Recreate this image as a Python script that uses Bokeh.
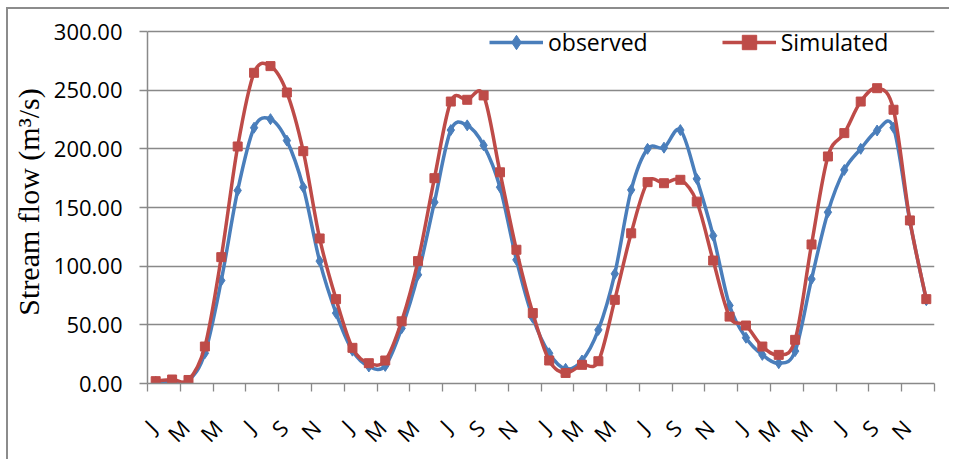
import math
from bokeh.plotting import figure
from bokeh.models import (FixedTicker, PrintfTickFormatter, Range1d, Legend,
                          LegendItem, ColumnDataSource)
from bokeh.embed import file_html
from bokeh.resources import INLINE

# ---- data ----
month_index = list(range(48))
tick_labels = ["J", "M", "M", "J", "S", "N"] * 4
observed = [1.5, 1.5, 2.5, 25.8, 87.8, 164.5, 218, 225.3, 207, 167.3, 104.3, 60,
            28, 14.5, 15, 47, 92.6, 154.5, 216, 220, 203, 167.3, 105.4, 56,
            25.8, 12.5, 19.6, 45.7, 93.5, 165, 200, 201, 216, 174.4, 126, 66.5,
            39, 24.4, 17.3, 27.6, 89, 146, 182, 200, 215.6, 218, 138, 71]
simulated = [2.0, 3.4, 3.0, 31.5, 107.7, 202, 264.8, 270.5, 248, 198, 123.6, 71.9,
             30.4, 17.3, 19.6, 53, 104.3, 175, 240.3, 241.8, 245.5, 180, 114, 60,
             19.6, 9, 15.9, 19, 71.3, 128, 171.6, 170.7, 173.6, 155, 104.8, 57,
             49.4, 31.5, 24.4, 37.2, 118.5, 193.5, 213.4, 240.3, 251.7, 233.3, 139, 71.9]
y_ticks = [0, 50, 100, 150, 200, 250, 300]

BLUE = "#4A7EBB"
RED = "#BE4B48"
GRAY = "#898989"
FONT = "Open Sans"

PLOT_H = 352      # pixels between 0 and 300
EXTRA_TOP = 11    # headroom above the 300 line (room for the legend)
Y_MAX = 300 * (PLOT_H + EXTRA_TOP) / PLOT_H


def bezier_source(xs, ys):
    """Cubic Bezier control points (Catmull-Rom style smoothing, like Excel)."""
    n = len(xs)
    d = dict(x0=[], y0=[], x1=[], y1=[], cx0=[], cy0=[], cx1=[], cy1=[])
    for i in range(n - 1):
        a = max(i - 1, 0)
        b = min(i + 2, n - 1)
        d["x0"].append(xs[i]); d["y0"].append(ys[i])
        d["x1"].append(xs[i + 1]); d["y1"].append(ys[i + 1])
        d["cx0"].append(xs[i] + (xs[i + 1] - xs[a]) / 6.0)
        d["cy0"].append(ys[i] + (ys[i + 1] - ys[a]) / 6.0)
        d["cx1"].append(xs[i + 1] - (xs[b] - xs[i]) / 6.0)
        d["cy1"].append(ys[i + 1] - (ys[b] - ys[i]) / 6.0)
    return ColumnDataSource(d)


p = figure(frame_width=787, frame_height=PLOT_H + EXTRA_TOP,
           x_range=Range1d(-0.5, 47.5), y_range=Range1d(0, Y_MAX),
           output_backend="svg", toolbar_location=None,
           min_border_left=138, min_border_top=22 - EXTRA_TOP,
           min_border_right=15, min_border_bottom=68)
p.styles = {"margin-left": "6px", "margin-top": "7px",
            "border-top": "2px solid #8c8c8c", "border-left": "2px solid #8c8c8c"}
p.outline_line_color = None
p.background_fill_color = "white"
p.border_fill_color = "white"

p.xgrid.visible = False
p.ygrid.grid_line_color = GRAY
p.ygrid.grid_line_width = 1.3
p.ygrid.ticker = FixedTicker(ticks=y_ticks)

# y axis
p.yaxis.ticker = FixedTicker(ticks=y_ticks)
p.yaxis.bounds = (0, 300)
p.yaxis.formatter = PrintfTickFormatter(format="%.2f")
p.yaxis.axis_line_color = GRAY
p.yaxis.axis_line_width = 1.5
p.yaxis.major_tick_line_color = GRAY
p.yaxis.major_tick_line_width = 1.3
p.yaxis.major_tick_out = 8
p.yaxis.major_tick_in = 0
p.yaxis.minor_tick_out = 0
p.yaxis.minor_tick_in = 0
p.yaxis.major_label_standoff = 17
p.yaxis.major_label_text_font = FONT
p.yaxis.major_label_text_font_size = "22px"
p.yaxis.major_label_text_color = "black"
p.yaxis.axis_label = "Stream flow (m³/s)"
p.yaxis.axis_label_text_font = "Liberation Serif"
p.yaxis.axis_label_text_font_size = "30px"
p.yaxis.axis_label_text_font_style = "normal"
p.yaxis.axis_label_text_color = "black"
p.yaxis.axis_label_standoff = 6

# x axis
major = [t - 0.2 for t in range(0, 48, 2)]
p.xaxis.ticker = FixedTicker(ticks=major, minor_ticks=[t - 0.5 for t in range(0, 50, 2)])
p.xaxis.major_label_overrides = {t: lab for t, lab in zip(major, tick_labels)}
p.xaxis.axis_line_color = GRAY
p.xaxis.axis_line_width = 1.5
p.xaxis.major_tick_out = 0
p.xaxis.major_tick_in = 0
p.xaxis.minor_tick_out = 8
p.xaxis.minor_tick_in = 0
p.xaxis.minor_tick_line_color = GRAY
p.xaxis.minor_tick_line_width = 1.3
p.xaxis.major_label_orientation = math.pi / 4
p.xaxis.major_label_standoff = 32
p.xaxis.major_label_text_font = FONT
p.xaxis.major_label_text_font_size = "22px"
p.xaxis.major_label_text_color = "black"

# series
obs_src = bezier_source(month_index, observed)
sim_src = bezier_source(month_index, simulated)

b_obs = p.bezier(x0="x0", y0="y0", x1="x1", y1="y1", cx0="cx0", cy0="cy0",
                 cx1="cx1", cy1="cy1", source=obs_src, line_color=BLUE, line_width=3.5)
m_obs = p.scatter(month_index, observed, marker="diamond", size=11,
                  fill_color=BLUE, line_color=BLUE)
b_sim = p.bezier(x0="x0", y0="y0", x1="x1", y1="y1", cx0="cx0", cy0="cy0",
                 cx1="cx1", cy1="cy1", source=sim_src, line_color=RED, line_width=3.5)
m_sim = p.scatter(month_index, simulated, marker="square", size=9,
                  fill_color=RED, line_color=RED)

legend = Legend(items=[LegendItem(label="observed", renderers=[b_obs, m_obs]),
                       LegendItem(label="Simulated", renderers=[b_sim, m_sim])],
                orientation="horizontal", location=(342, 323),
                padding=0, margin=0, spacing=74, glyph_width=54, glyph_height=36,
                label_height=36, label_standoff=5,
                label_text_font=FONT, label_text_font_size="23px",
                label_text_color="black",
                background_fill_alpha=0, border_line_color=None)
p.add_layout(legend)

open("out.html", "w").write(file_html(p, INLINE))
